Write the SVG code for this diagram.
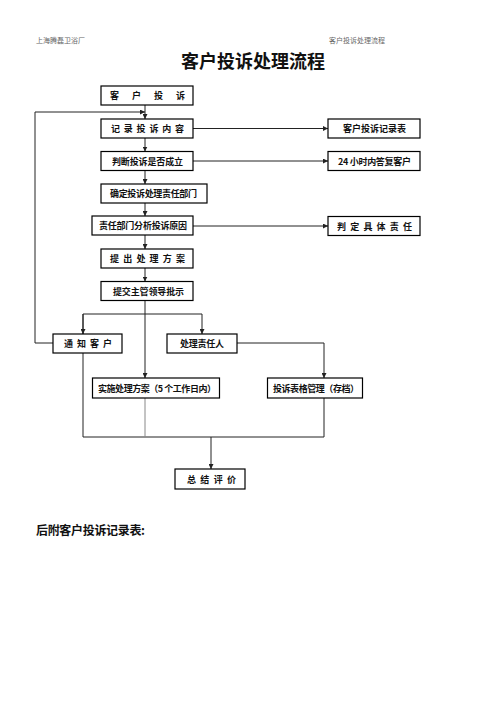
<svg xmlns="http://www.w3.org/2000/svg" width="496" height="702" viewBox="0 0 496 702">
<defs>
<marker id="ah" viewBox="0 0 8 8" refX="8" refY="4" markerWidth="5" markerHeight="5" orient="auto" markerUnits="userSpaceOnUse"><path d="M0,0 L8,4 L0,8 z" fill="#222"/></marker>
<style>
.b{fill:#fff;stroke:#000;stroke-width:1.2}
.t{font-family:"Noto Sans CJK SC","Liberation Serif",sans-serif;font-weight:bold;font-size:9px;fill:#111}
.c{fill:none;stroke:#222;stroke-width:1}
.h{font-family:"Noto Sans CJK SC","Liberation Serif",serif;font-size:7px;fill:#666}
</style>
</defs>
<rect width="496" height="702" fill="#fff"/>
<text class="h" x="36" y="43">上海腾磊卫浴厂</text>
<text class="h" x="329" y="43">客户投诉处理流程</text>
<text x="253" y="68" text-anchor="middle" style="font-family:'Noto Sans CJK SC',sans-serif;font-weight:bold;font-size:18px;fill:#111">客户投诉处理流程</text>

<g id="connectors">
<path class="c" d="M145,105 V119" marker-end="url(#ah)"/>
<path class="c" d="M145,138 V151.5" marker-end="url(#ah)"/>
<path class="c" d="M145,170 V184" marker-end="url(#ah)"/>
<path class="c" d="M145,203 V216" marker-end="url(#ah)"/>
<path class="c" d="M145,235 V249" marker-end="url(#ah)"/>
<path class="c" d="M145,268 V281.5" marker-end="url(#ah)"/>
<path class="c" d="M145,301 V378" marker-end="url(#ah)"/>
<path class="c" d="M193,128.5 H328" marker-end="url(#ah)"/>
<path class="c" d="M193,161 H328" marker-end="url(#ah)"/>
<path class="c" d="M193,226 H328" marker-end="url(#ah)"/>
<path class="c" d="M53,343 H35 V112 H145" marker-end="url(#ah)"/>
<path class="c" d="M83,334 V314 H202 V334" marker-end="url(#ah)"/>
<path class="c" d="M83,314 V334" marker-end="url(#ah)"/>
<path class="c" d="M237,343 H324 V378" marker-end="url(#ah)"/>
<path class="c" d="M83,353 V437 H324 V398"/>
<path class="c" d="M145,398 V437" style="stroke:#888"/>
<path class="c" d="M211,437 V469" marker-end="url(#ah)"/>
</g>

<g id="n1"><rect class="b" x="101" y="86" width="92" height="19"/><text class="t" x="110" y="99" textLength="75" lengthAdjust="spacing">客户投诉</text></g>
<g id="n2"><rect class="b" x="101" y="119" width="92" height="19"/><text class="t" x="111" y="132" textLength="73" lengthAdjust="spacing">记录投诉内容</text></g>
<g id="n3"><rect class="b" x="101" y="151.5" width="92" height="19"/><text class="t" x="112" y="164.5" textLength="71" lengthAdjust="spacing">判断投诉是否成立</text></g>
<g id="n4"><rect class="b" x="101" y="184" width="106" height="19"/><text class="t" x="110" y="197" textLength="87" lengthAdjust="spacing">确定投诉处理责任部门</text></g>
<g id="n5"><rect class="b" x="92" y="216" width="101" height="19"/><text class="t" x="99" y="229" textLength="88" lengthAdjust="spacing">责任部门分析投诉原因</text></g>
<g id="n6"><rect class="b" x="101" y="249" width="92" height="19"/><text class="t" x="110" y="262" textLength="75" lengthAdjust="spacing">提出处理方案</text></g>
<g id="n7"><rect class="b" x="101" y="281.5" width="92" height="19"/><text class="t" x="113" y="294.5" textLength="71" lengthAdjust="spacing">提交主管领导批示</text></g>
<g id="n8"><rect class="b" x="53" y="334" width="69" height="19"/><text class="t" x="64" y="347" textLength="48" lengthAdjust="spacing">通知客户</text></g>
<g id="n9"><rect class="b" x="167" y="334" width="70" height="19"/><text class="t" x="180" y="347" textLength="44" lengthAdjust="spacing">处理责任人</text></g>
<g id="r1"><rect class="b" x="328" y="119" width="92" height="19"/><text class="t" x="343" y="132" textLength="63" lengthAdjust="spacing">客户投诉记录表</text></g>
<g id="r2"><rect class="b" x="328" y="151.5" width="92" height="19"/><text class="t" x="338" y="164.5" textLength="73" lengthAdjust="spacing">24 小时内答复客户</text></g>
<g id="r3"><rect class="b" x="328" y="216.5" width="92" height="19"/><text class="t" x="337" y="229.5" textLength="75" lengthAdjust="spacing">判定具体责任</text></g>
<g id="n10"><rect class="b" x="92.5" y="378" width="127" height="20"/><text class="t" x="98" y="391.5" textLength="118" lengthAdjust="spacing">实施处理方案（5 个工作日内）</text></g>
<g id="n11"><rect class="b" x="267.5" y="378" width="95" height="20"/><text class="t" x="273" y="391.5" textLength="86" lengthAdjust="spacing">投诉表格管理（存档）</text></g>
<g id="n12"><rect class="b" x="175" y="469" width="70" height="20"/><text class="t" x="187" y="482.5" textLength="49" lengthAdjust="spacing">总结评价</text></g>

<text x="36" y="535" style="font-family:'Noto Sans CJK SC',sans-serif;font-weight:bold;font-size:12px;fill:#111" textLength="109" lengthAdjust="spacing">后附客户投诉记录表:</text>
</svg>
